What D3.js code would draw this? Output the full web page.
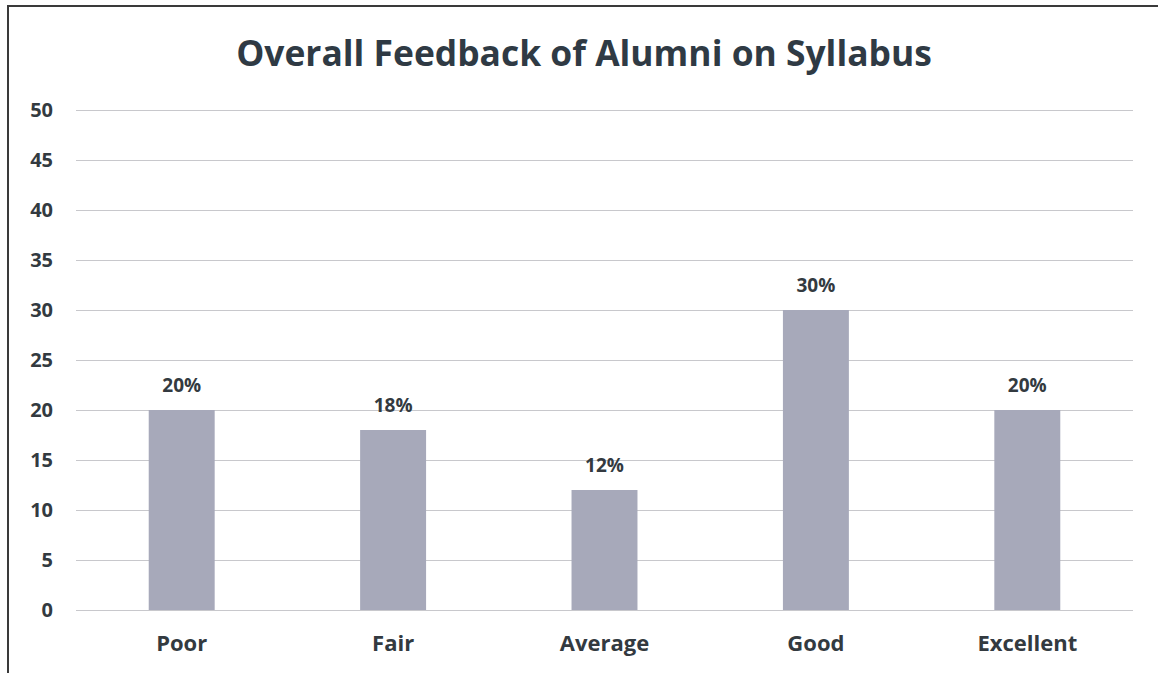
<!DOCTYPE html>
<html>
<head>
<meta charset="utf-8">
<script src="https://cdn.jsdelivr.net/npm/d3@7/dist/d3.min.js"></script>
<style>
  html, body { margin: 0; padding: 0; background: #fff; }
  svg { display: block; }
</style>
</head>
<body>
<svg id="chart" width="1158" height="673"></svg>
<script>
const title = "Overall Feedback of Alumni on Syllabus";
const categories = ["Poor", "Fair", "Average", "Good", "Excellent"];
const values = [20, 18, 12, 30, 20];
const valueLabels = ["20%", "18%", "12%", "30%", "20%"];
const yTicks = [0, 5, 10, 15, 20, 25, 30, 35, 40, 45, 50];

const W = 1158, H = 673;
const margin = { left: 76, right: 25, top: 110, bottom: 63 };
const svg = d3.select("#chart");
const font = "'Open Sans', 'Noto Sans', sans-serif";
const textColor = "#333a40";

// frame (left and top edges visible)
svg.append("path")
  .attr("d", "M8,673 L8,6 L1158,6")
  .attr("fill", "none").attr("stroke", "#3a3a3a").attr("stroke-width", 2);

const x = d3.scaleBand().domain(categories)
  .range([margin.left, W - margin.right])
  .paddingInner(0.688).paddingOuter(0.344);
const y = d3.scaleLinear().domain([0, 50]).range([H - margin.bottom, margin.top]);

// gridlines
const yAxis = d3.axisLeft(y).tickValues(yTicks)
  .tickSize(-(W - margin.right - margin.left)).tickPadding(23);
const gy = svg.append("g").attr("transform", `translate(${margin.left},0)`).call(yAxis);
gy.select(".domain").remove();
gy.selectAll(".tick line").attr("stroke", "#c8c8cc").attr("stroke-width", 1.2);
gy.selectAll(".tick text")
  .attr("font-family", font).attr("font-weight", "bold").attr("font-size", 20)
  .attr("fill", textColor);

// bars
svg.append("g").selectAll("rect").data(values).join("rect")
  .attr("x", (d, i) => x(categories[i]))
  .attr("y", d => y(d))
  .attr("width", x.bandwidth())
  .attr("height", d => y(0) - y(d))
  .attr("fill", "#a7a9ba");

// value labels
svg.append("g").selectAll("text").data(values).join("text")
  .attr("x", (d, i) => x(categories[i]) + x.bandwidth() / 2)
  .attr("y", d => y(d) - 18)
  .attr("text-anchor", "middle")
  .attr("font-family", font).attr("font-weight", "bold").attr("font-size", 19)
  .attr("fill", textColor)
  .text((d, i) => valueLabels[i]);

// category axis
const xAxis = d3.axisBottom(x).tickSize(0).tickPadding(25);
const gx = svg.append("g").attr("transform", `translate(0,${y(0)})`).call(xAxis);
gx.select(".domain").remove();
gx.selectAll(".tick text")
  .attr("font-family", font).attr("font-weight", "bold").attr("font-size", 22)
  .attr("fill", textColor);

// title
const t = svg.append("text")
  .attr("x", 584).attr("y", 66)
  .attr("text-anchor", "middle")
  .attr("font-family", font).attr("font-weight", "bold").attr("font-size", 34)
  .attr("fill", "#2f3a44")
  .text(title);
const tw = t.node().getComputedTextLength();
t.attr("font-size", 34 * 696 / tw);
</script>
</body>
</html>
